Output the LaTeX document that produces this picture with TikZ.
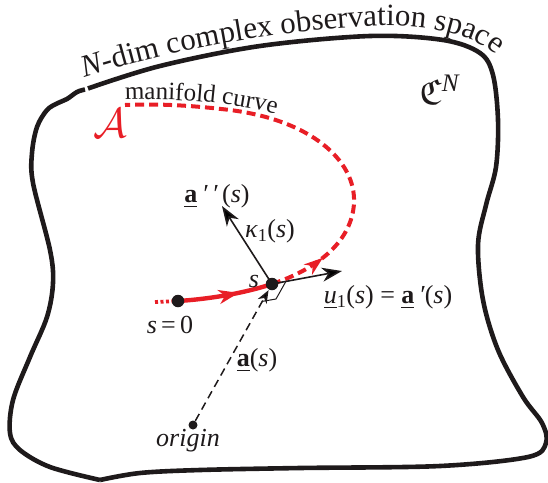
\RequirePackage{fix-cm}
\documentclass[tikz,border=0pt]{standalone}
\usepackage{amssymb}
\usepackage{fontspec}
\setmainfont{Liberation Serif}
\usetikzlibrary{arrows.meta,decorations.text,decorations.markings,calc}
\definecolor{cred}{RGB}{232,30,38}
\definecolor{cblk}{RGB}{30,26,27}
\pgfdeclarelayer{bg}
\pgfsetlayers{bg,main}
\begin{document}
\begin{tikzpicture}[x=1pt,y=-1pt,
  boundary/.style={line width=4.6pt, draw=cblk, line join=round, line cap=butt},
  bigdot/.style={circle, fill=cblk, inner sep=0pt, minimum size=12.5pt},
  smalldot/.style={circle, fill=cblk, inner sep=0pt, minimum size=9pt},
  lbl/.style={inner sep=1pt, text=cblk, font=\rmfamily\fontsize{26}{30}\selectfont},
  vec/.style={line width=1.6pt, draw=cblk, -{Stealth[length=20pt,width=14pt,inset=6pt]}},
  dashvec/.style={line width=1.5pt, draw=cblk, dash pattern=on 8pt off 5pt, -{Stealth[length=13pt,width=10pt,inset=4pt]}},
  redsolid/.style={cred, line width=4.4pt},
  reddash/.style={cred, line width=4pt, dash pattern=on 9pt off 5pt},
]
\useasboundingbox (0,0) rectangle (548,482);

% boundary of the space
\draw[boundary] plot[smooth, tension=0.55] coordinates {(88,88.5) (160,66) (260,46) (370,36) (443,40) (480,53) (493,75) (498,120) (496,167) (486,205) (478,245) (483,300) (498,350) (523,397) (542,423) (546,443) (528,457) (440,466) (300,468) (200,470) (140,473) (100,480)};
\draw[boundary] plot[smooth, tension=0.55] coordinates {(100,480) (50,467) (20,450) (10,433) (13,400) (30,357) (47,317) (53,283) (50,250) (33,183) (32,153) (37,127) (47,110) (58,103) (67,99) (77,92) (85,89.5)};

% title along the boundary
\path[decorate, decoration={text along path, text color=cblk,
  text={|\rmfamily\fontsize{31}{36}\selectfont\itshape|N|\rmfamily\fontsize{31}{36}\selectfont|-dim complex observation space}}]
  (85,78) .. controls (150,57) and (260,31) .. (370,26) .. controls (430,23) and (490,36) .. (506,68);

% manifold label along curve
\path[decorate, decoration={text along path, text color=cblk,
  text={|\rmfamily\fontsize{25}{29}\selectfont|manifold curve}}]
  (125,100) .. controls (190,98) and (250,104) .. (300,122);

% points
\node[bigdot] (s0) at (178,301) {};
\node[bigdot] (P) at (272,284) {};
\node[smalldot] (O) at (193,425) {};
\coordinate (T) at (342,271);
\coordinate (N) at (222,206);
\coordinate (start) at (155,302);

\begin{pgfonlayer}{bg}
% red manifold curve
\draw[cred, line width=3.8pt, dash pattern=on 3pt off 2.5pt] (start) -- (s0.center);
\draw[redsolid, postaction={decorate}, decoration={markings,
  mark=at position 0.64 with {\arrow{Stealth[length=20pt,width=14pt,inset=6pt]}}}]
  (s0.center) .. controls (210,299) and (245,293) .. (P.center);
\draw[reddash, postaction={decorate}, decoration={markings,
  mark=at position 0.145 with {\pgfsetdash{}{0pt}\arrow{Stealth[length=19pt,width=13pt,inset=6pt]}}}]
  (P.center) .. controls (320,268) and (352,240) .. (354,203) .. controls (356,160) and (310,120) .. (230,110) .. controls (180,104) and (150,104) .. (125,105);
% position vector
\draw[dashvec] (O) -- ($(P.center)!7pt!(O.center)$);
% right-angle mark
\draw[line width=1pt, cblk] ($(P.center)+(13.8,-2.4)$) -- ++(-9.8,17.4) -- ++(-13.8,2.4);
% tangent and normal
\draw[vec] (P.center) -- (T);
\draw[vec] (P.center) -- (N);
\end{pgfonlayer}

% labels
\node[lbl] (ldd) at (217,196) {\underline{\textbf{a}}\,\textit{′\,′}\,(\textit{s})};
\node[lbl] (lk) at (270,231) {\textit{κ}\textsubscript{1}(\textit{s})};
\node[lbl] (ls) at (254,281) {\textit{s}};
\node[lbl] (lu) at (388,297) {\underline{\textit{u}}\textsubscript{1}(\textit{s}) = \underline{\textbf{a}}\,\textit{′}(\textit{s})};
\node[lbl] (ls0) at (170,325) {\textit{s}\,=\,0};
\node[lbl] (la) at (257,360) {\underline{\textbf{a}}(\textit{s})};
\node[lbl] (lo) at (188,441) {\textit{origin}};
\node[lbl, font=\fontsize{36}{40}\selectfont] (lC) at (440,90) {$\mathfrak{C}$\textsuperscript{\textit{N}}};
\node[inner sep=0pt, text=cred, font=\fontsize{42}{46}\selectfont] (lA) at (110,123) {$\mathcal{A}$};
\end{tikzpicture}
\end{document}
